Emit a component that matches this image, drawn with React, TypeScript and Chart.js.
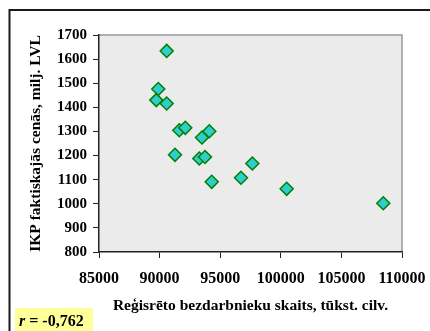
import React, { useEffect, useRef } from "react";
import { Chart, registerables } from "chart.js";

Chart.register(...registerables);

// Reģistrēto bezdarbnieku skaits (x)
const unemployed = [
  90585, 89892, 89727, 90585, 91625, 92120, 93498, 94100,
  91270, 93275, 93745, 97650, 96715, 94300, 100485, 108455,
];
// IKP faktiskajās cenās, milj. LVL (y)
const gdp = [
  1634, 1476, 1430, 1416, 1305, 1315, 1275, 1301,
  1203, 1188, 1194, 1167, 1108, 1091, 1062, 1002,
];
const xTickValues = [85000, 90000, 95000, 100000, 105000, 110000];
const yTickValues = [800, 900, 1000, 1100, 1200, 1300, 1400, 1500, 1600, 1700];
const xTitle = "Reģisrēto bezdarbnieku skaits, tūkst. cilv.";
const yTitle = "IKP faktiskajās cenās, milj. LVL";
const rLabel = "-0,762";

const SERIF = "'Liberation Serif', 'Times New Roman', serif";

const decorPlugin = {
  id: "decor",
  beforeDraw(chart: any) {
    const { ctx, chartArea: a } = chart;
    ctx.save();
    ctx.fillStyle = "#ffffff";
    ctx.fillRect(0, 0, chart.width, chart.height);
    ctx.fillStyle = "#ebebeb";
    ctx.fillRect(a.left, a.top, a.right - a.left, a.bottom - a.top);
    ctx.strokeStyle = "#9a9a9a";
    ctx.lineWidth = 1.5;
    ctx.beginPath();
    ctx.moveTo(a.left, a.top);
    ctx.lineTo(a.right, a.top);
    ctx.lineTo(a.right, a.bottom);
    ctx.stroke();
    ctx.restore();
  },
  afterDraw(chart: any) {
    const { ctx } = chart;
    ctx.save();
    // outer frame
    ctx.strokeStyle = "#1a1a1a";
    ctx.lineWidth = 2;
    ctx.strokeRect(9.5, 10, chart.width + 20, chart.height + 20);
    // yellow r box
    ctx.fillStyle = "#ffff99";
    ctx.fillRect(15, 308, 78, 30);
    ctx.fillStyle = "#000";
    ctx.textBaseline = "middle";
    ctx.textAlign = "left";
    ctx.font = `italic bold 16px ${SERIF}`;
    ctx.fillText("r", 19, 322);
    const rw = ctx.measureText("r").width;
    ctx.font = `bold 16px ${SERIF}`;
    ctx.fillText(" = " + rLabel, 19 + rw, 322);
    ctx.restore();
  },
};

export default function App() {
  const ref = useRef<HTMLCanvasElement | null>(null);
  useEffect(() => {
    document.body.style.margin = "0";
    const canvas = ref.current!;
    const chart = new Chart(canvas, {
      type: "scatter",
      data: {
        datasets: [
          {
            data: unemployed.map((x, i) => ({ x, y: gdp[i] })),
            pointStyle: "rectRot",
            pointRadius: 6.5,
            pointHoverRadius: 6.5,
            backgroundColor: "#33cccc",
            borderColor: "#008000",
            borderWidth: 1.5,
          },
        ],
      },
      options: {
        responsive: false,
        animation: false,
        devicePixelRatio: 1,
        layout: { padding: { left: 20, top: 35, right: 28, bottom: 16 } },
        plugins: { legend: { display: false }, tooltip: { enabled: false } },
        scales: {
          x: {
            type: "linear",
            min: 85000,
            max: 110000,
            afterFit: (s: any) => {
              s.height = 63;
              s.paddingLeft = 0;
              s.paddingRight = 0;
            },
            afterBuildTicks: (s: any) => {
              s.ticks = xTickValues.map((v) => ({ value: v }));
            },
            ticks: {
              callback: (v: any) => String(v),
              color: "#000",
              padding: 11,
              maxRotation: 0,
              autoSkip: false,
              font: { family: SERIF, size: 16, weight: "bold" },
            },
            grid: {
              drawOnChartArea: false,
              drawTicks: true,
              tickLength: 6,
              color: "#222",
              lineWidth: 1,
            },
            border: { display: true, color: "#222", width: 1.5 },
            title: {
              display: true,
              text: xTitle,
              color: "#000",
              padding: 0,
              font: { family: SERIF, size: 15.5, weight: "bold" },
            },
          },
          y: {
            type: "linear",
            min: 800,
            max: 1700,
            afterFit: (s: any) => {
              s.width = 79;
              s.paddingTop = 0;
              s.paddingBottom = 0;
            },
            afterBuildTicks: (s: any) => {
              s.ticks = yTickValues.map((v) => ({ value: v }));
            },
            ticks: {
              callback: (v: any) => String(v),
              color: "#000",
              padding: 6,
              autoSkip: false,
              font: { family: SERIF, size: 15, weight: "bold" },
            },
            grid: {
              drawOnChartArea: false,
              drawTicks: true,
              tickLength: 6,
              color: "#222",
              lineWidth: 1,
            },
            border: { display: true, color: "#222", width: 1.5 },
            title: {
              display: true,
              text: yTitle,
              color: "#000",
              padding: { top: 7, bottom: 0 },
              font: { family: SERIF, size: 15.5, weight: "bold" },
            },
          },
        },
      },
      plugins: [decorPlugin],
    });
    return () => chart.destroy();
  }, []);
  return <canvas ref={ref} width={430} height={331} style={{ display: "block" }} />;
}
